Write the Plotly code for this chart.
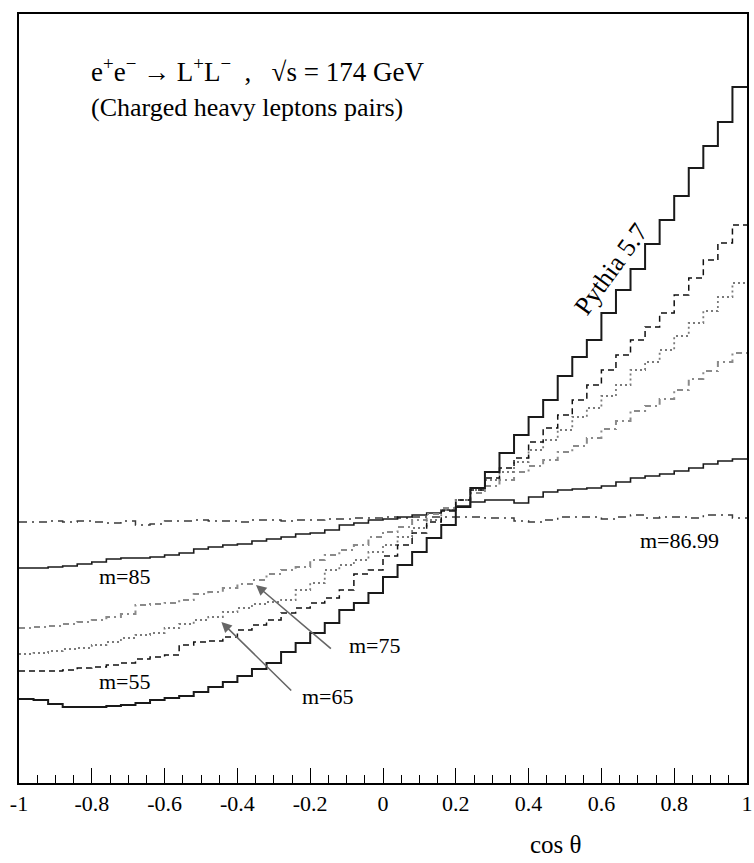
import numpy as np
import plotly.graph_objects as go

# 50 bins in cos(theta) from -1 to 1
bin_edges = np.linspace(-1.0, 1.0, 51)

# Histogram contents (arbitrary units)
pythia = [0.84, 0.83, 0.79, 0.76, 0.76, 0.76, 0.77, 0.78, 0.80, 0.83, 0.85, 0.87, 0.91, 0.96, 1.01, 1.07, 1.14, 1.20, 1.31, 1.40,
          1.50, 1.60, 1.73, 1.80, 1.90, 2.06, 2.18, 2.31, 2.45, 2.58, 2.76, 2.95, 3.11, 3.30, 3.48, 3.66, 3.83, 4.07, 4.26, 4.43,
          4.70, 4.93, 5.14, 5.39, 5.63, 5.87, 6.15, 6.37, 6.61, 6.96]
m85 = [2.15, 2.15, 2.16, 2.17, 2.19, 2.21, 2.24, 2.25, 2.25, 2.26, 2.28, 2.30, 2.34, 2.36, 2.38, 2.39, 2.42, 2.44, 2.46, 2.49,
       2.50, 2.53, 2.58, 2.60, 2.63, 2.64, 2.66, 2.68, 2.70, 2.73, 2.77, 2.81, 2.83, 2.83, 2.80, 2.86, 2.91, 2.93, 2.94, 2.95,
       2.97, 3.01, 3.05, 3.07, 3.09, 3.12, 3.15, 3.19, 3.22, 3.24]
m8699 = [2.61, 2.61, 2.62, 2.61, 2.62, 2.61, 2.60, 2.62, 2.58, 2.59, 2.62, 2.62, 2.63, 2.62, 2.62, 2.61, 2.63, 2.63, 2.62, 2.63,
         2.63, 2.64, 2.64, 2.65, 2.65, 2.66, 2.65, 2.66, 2.66, 2.66, 2.66, 2.66, 2.65, 2.65, 2.62, 2.61, 2.63, 2.66, 2.66, 2.66,
         2.64, 2.66, 2.68, 2.65, 2.66, 2.66, 2.65, 2.68, 2.68, 2.65]
m55 = [1.12, 1.12, 1.12, 1.13, 1.15, 1.16, 1.18, 1.20, 1.24, 1.26, 1.28, 1.38, 1.41, 1.42, 1.46, 1.53, 1.58, 1.63, 1.70, 1.75,
       1.80, 1.85, 1.93, 2.09, 2.13, 2.27, 2.38, 2.50, 2.61, 2.72, 2.83, 2.93, 3.05, 3.15, 3.25, 3.41, 3.55, 3.68, 3.83, 3.98,
       4.13, 4.28, 4.43, 4.56, 4.70, 4.88, 5.05, 5.23, 5.40, 5.58]
m65 = [1.29, 1.30, 1.32, 1.34, 1.35, 1.38, 1.41, 1.45, 1.48, 1.50, 1.55, 1.59, 1.63, 1.66, 1.71, 1.75, 1.79, 1.81, 1.83, 1.93,
       2.00, 2.13, 2.18, 2.23, 2.31, 2.38, 2.46, 2.55, 2.63, 2.73, 2.83, 2.93, 3.03, 3.11, 3.21, 3.33, 3.43, 3.53, 3.66, 3.75,
       3.87, 3.98, 4.13, 4.21, 4.33, 4.47, 4.60, 4.72, 4.86, 5.00]
m75 = [1.55, 1.56, 1.57, 1.59, 1.61, 1.63, 1.66, 1.69, 1.78, 1.79, 1.80, 1.83, 1.89, 1.91, 1.95, 1.99, 2.03, 2.09, 2.13, 2.16,
       2.23, 2.28, 2.33, 2.38, 2.46, 2.51, 2.56, 2.63, 2.69, 2.75, 2.83, 2.90, 2.97, 3.03, 3.11, 3.17, 3.23, 3.31, 3.37, 3.45,
       3.54, 3.62, 3.72, 3.77, 3.84, 3.93, 4.04, 4.12, 4.21, 4.30]

tick_vals = [-1, -0.8, -0.6, -0.4, -0.2, 0, 0.2, 0.4, 0.6, 0.8, 1]
tick_text = ["-1", "-0.8", "-0.6", "-0.4", "-0.2", "0", "0.2", "0.4", "0.6", "0.8", "1"]

SERIF = "Liberation Serif, Times New Roman, serif"

series = [
    (m8699, dict(color="#3a3a3a", width=1.5, dash="8px,5px,2px,5px")),
    (m85, dict(color="#1a1a1a", width=1.6)),
    (m75, dict(color="#8a8a8a", width=2.0, dash="6px,4px,2px,4px")),
    (m65, dict(color="#7a7a7a", width=1.8, dash="2px,3px")),
    (m55, dict(color="#111111", width=1.5, dash="6px,4px")),
    (pythia, dict(color="#1a1a1a", width=2.0)),
]

fig = go.Figure()
x_step = list(bin_edges)
for vals, line in series:
    fig.add_trace(go.Scatter(x=x_step, y=list(vals) + [vals[-1]], mode="lines",
                             line=dict(shape="hv", **line), showlegend=False, hoverinfo="skip"))

annotations = [
    dict(x=-0.807, y=7.13, xref="x", yref="y", xanchor="left", yanchor="middle", showarrow=False,
         text="e<sup>+</sup>e<sup>\u2212</sup> \u2192 L<sup>+</sup>L<sup>\u2212</sup>\u00a0\u00a0,\u00a0\u00a0\u00a0\u221as = 174 GeV",
         font=dict(family=SERIF, size=27, color="black")),
    dict(x=-0.807, y=6.76, xref="x", yref="y", xanchor="left", yanchor="middle", showarrow=False,
         text="(Charged heavy leptons pairs)", font=dict(family=SERIF, size=26, color="black")),
    dict(x=0.625, y=5.14, xref="x", yref="y", showarrow=False, textangle=-54,
         text="Pythia 5.7", font=dict(family=SERIF, size=26, color="black")),
    dict(x=-0.71, y=2.07, xref="x", yref="y", showarrow=False,
         text="m=85", font=dict(family=SERIF, size=22, color="black")),
    dict(x=-0.71, y=1.02, xref="x", yref="y", showarrow=False,
         text="m=55", font=dict(family=SERIF, size=22, color="black")),
    dict(x=0.815, y=2.43, xref="x", yref="y", showarrow=False,
         text="m=86.99", font=dict(family=SERIF, size=22, color="black")),
    dict(x=-0.229, y=0.87, xref="x", yref="y", showarrow=False, xanchor="left",
         text="m=65", font=dict(family=SERIF, size=22, color="black")),
    dict(x=-0.10, y=1.38, xref="x", yref="y", showarrow=False, xanchor="left",
         text="m=75", font=dict(family=SERIF, size=22, color="black")),
    # arrows
    dict(x=-0.349, y=1.98, xref="x", yref="y", ax=-0.139, ay=1.33, axref="x", ayref="y",
         showarrow=True, arrowhead=2, arrowsize=1.3, arrowwidth=1.6, arrowcolor="#666666", text=""),
    dict(x=-0.444, y=1.61, xref="x", yref="y", ax=-0.248, ay=0.91, axref="x", ayref="y",
         showarrow=True, arrowhead=2, arrowsize=1.3, arrowwidth=1.6, arrowcolor="#666666", text=""),
    dict(x=0.475, y=-0.08, xref="x", yref="paper", yanchor="middle", showarrow=False,
         text="cos \u03b8", font=dict(family=SERIF, size=25, color="black")),
]

fig.update_layout(
    width=754, height=863,
    margin=dict(l=19, r=1, t=14, b=80),
    paper_bgcolor="white", plot_bgcolor="white",
    annotations=annotations,
    xaxis=dict(range=[-1, 1], showgrid=False, zeroline=False, showline=True, mirror=True,
               linecolor="black", linewidth=1.6,
               tickmode="array", tickvals=tick_vals, ticktext=tick_text,
               ticks="inside", ticklen=15, tickwidth=1.2, tickcolor="black",
               ticklabeloverflow="allow",
               tickfont=dict(family=SERIF, size=22, color="black"),
               minor=dict(dtick=0.05, tick0=-1, ticks="inside", ticklen=8, tickwidth=1.2, tickcolor="black")),
    yaxis=dict(range=[0, 7.69], showgrid=False, zeroline=False, showline=True, mirror=True,
               linecolor="black", linewidth=1.6, showticklabels=False, ticks=""),
)

fig.write_html("out.html", config={"displayModeBar": False},
               post_script="document.body.style.margin='0';document.body.style.overflow='hidden';")
